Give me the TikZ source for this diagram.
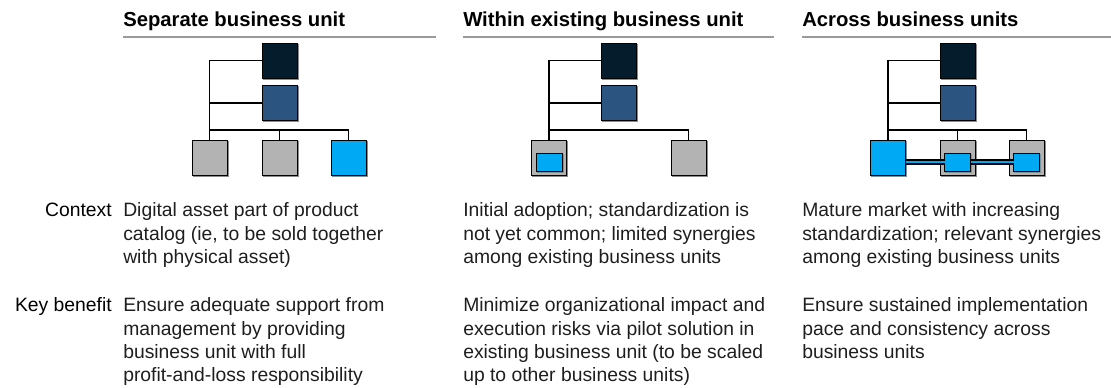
\documentclass[tikz,border=0pt]{standalone}
\usepackage{fontspec}
\setmainfont{Liberation Sans}
\definecolor{navy}{HTML}{051C2C}
\definecolor{midblue}{HTML}{2B5480}
\definecolor{unitgray}{HTML}{B3B3B3}
\definecolor{brightblue}{HTML}{00A9F4}
\definecolor{shadowgray}{HTML}{8C8C8C}
\definecolor{rulegray}{HTML}{9A9A9A}
\definecolor{bodytext}{HTML}{1E1E1E}
\begin{document}
\begin{tikzpicture}[x=0.75pt,y=-0.75pt,
  unit/.style={draw=black, line width=0.75pt, inner sep=0pt, outer sep=0pt,
    minimum width=26.25pt, minimum height=26.25pt,
    preaction={fill=shadowgray, draw=shadowgray, transform canvas={shift={(0.8pt,-0.8pt)}}}},
  inner/.style={unit, minimum width=19.5pt, minimum height=13.5pt, fill=brightblue},
  link/.style={draw=black, line width=0.9pt},
  band/.style={draw=black, line width=0.8pt, double=brightblue, double distance=2.2pt},
  rule/.style={draw=rulegray, line width=1pt},
  title/.style={font=\fontsize{15.2pt}{18pt}\selectfont\bfseries, inner sep=0pt, anchor=base west},
  body/.style={font=\fontsize{14.5pt}{17.5pt}\selectfont, text=bodytext, inner sep=0pt, align=left, anchor=base west},
  label/.style={font=\fontsize{14.5pt}{17.5pt}\selectfont, text=black, inner sep=0pt, anchor=base east}]
\useasboundingbox (0,0) rectangle (1111,387);

% column headings and rules
\node[title] (h1) at (123,26) {Separate business unit};
\node[title] (h2) at (463,26) {Within existing business unit};
\node[title] (h3) at (802,26) {Across business units};
\draw[rule] (123,37) -- (436,37);
\draw[rule] (463,37) -- (774,37);
\draw[rule] (802,37) -- (1111,37);

% --- separate business unit
\node[unit, fill=navy] (t1) at (279.5,60.5) {};
\node[unit, fill=midblue] (m1) at (279.5,103) {};
\node[unit, fill=unitgray] (a1) at (209.5,157.5) {};
\node[unit, fill=unitgray] (a2) at (279.5,157.5) {};
\node[unit, fill=brightblue] (a3) at (348.5,157.5) {};
\draw[link] (t1.west) -| (a1.north);
\draw[link] (m1.west) -- (m1.west -| a1.north);
\draw[link] (a1.north) ++(0,-10) -| (a2.north);
\draw[link] (a2.north) ++(0,-10) -| (a3.north);

% --- within existing business unit
\node[unit, fill=navy] (t2) at (618.5,60.5) {};
\node[unit, fill=midblue] (m2) at (618.5,103) {};
\node[unit, fill=unitgray] (b1) at (549,157.5) {};
\node[unit, fill=unitgray] (b2) at (688.5,157.5) {};
\node[inner] (b1i) at (549,162) {};
\draw[link] (t2.west) -| (b1.north);
\draw[link] (m2.west) -- (m2.west -| b1.north);
\draw[link] (b1.north) ++(0,-10) -| (b2.north);

% --- across business units
\node[unit, fill=navy] (t3) at (957.5,60.5) {};
\node[unit, fill=midblue] (m3) at (957.5,103) {};
\node[unit, fill=brightblue] (c1) at (888,157.5) {};
\node[unit, fill=unitgray] (c2) at (957.5,157.5) {};
\node[unit, fill=unitgray] (c3) at (1026.5,157.5) {};
\draw[link] (t3.west) -| (c1.north);
\draw[link] (m3.west) -- (m3.west -| c1.north);
\draw[link] (c1.north) ++(0,-10) -| (c2.north);
\draw[link] (c2.north) ++(0,-10) -| (c3.north);
\node[inner] (c2i) at (957.5,162) {};
\node[inner] (c3i) at (1026.5,162) {};
\draw[band] (c2i.west -| c1.east) -- (c2i.west);
\draw[band] (c2i.east) -- (c3i.west);

% row labels
\node[label] (lctx) at (112,216.7) {Context};
\node[label] (lkey) at (112,311.7) {Key benefit};

% context texts (base anchor sits on the last line)
\node[body] (x1) at (123,263.4) {Digital asset part of product\\catalog (ie, to be sold together\\with physical asset)};
\node[body] (x2) at (463,263.4) {Initial adoption; standardization is\\not yet common; limited synergies\\among existing business units};
\node[body] (x3) at (802,263.4) {Mature market with increasing\\standardization; relevant synergies\\among existing business units};

% key benefit texts
\node[body] (k1) at (123,381.7) {Ensure adequate support from\\management by providing\\business unit with full\\profit-and-loss responsibility};
\node[body] (k2) at (463,381.7) {Minimize organizational impact and\\execution risks via pilot solution in\\existing business unit (to be scaled\\up to other business units)};
\node[body] (k3) at (802,358.4) {Ensure sustained implementation\\pace and consistency across\\business units};
\end{tikzpicture}
\end{document}
